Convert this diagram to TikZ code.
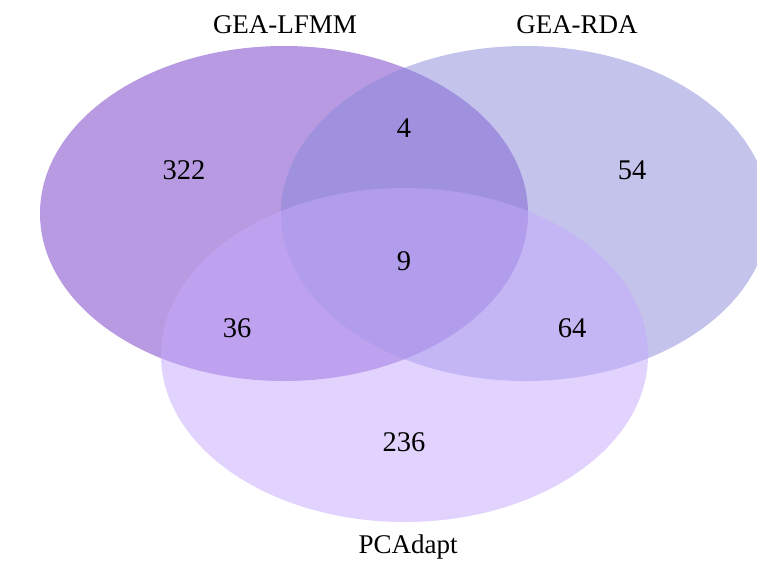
\documentclass[tikz,border=0pt]{standalone}
\usepackage{fontspec}
\setmainfont{Liberation Serif}
\definecolor{setL}{RGB}{113,55,197}
\definecolor{setR}{RGB}{137,137,219}
\definecolor{setB}{RGB}{197,169,253}
\begin{document}
\begin{tikzpicture}[x=1pt,y=-1pt,
  setfill/.style={fill=#1,fill opacity=0.5,draw=none},
  lbl/.style={anchor=base,inner sep=0pt,font=\fontsize{27}{30}\selectfont},
  cnt/.style={anchor=base,inner sep=0pt,font=\fontsize{28.5}{32}\selectfont}]
\useasboundingbox (0,0) rectangle (757,563);
\fill[white] (0,0) rectangle (757,563);
% the three sets
\fill[setfill=setL] (284,213.5) ellipse [x radius=244, y radius=167.5];
\fill[setfill=setR] (525,213.5) ellipse [x radius=244, y radius=167.5];
\fill[setfill=setB] (404.5,355) ellipse [x radius=243.5, y radius=167];
% set names
\node[lbl] (nameL) at (285,33) {GEA-LFMM};
\node[lbl] (nameR) at (577,33) {GEA-RDA};
\node[lbl] (nameB) at (408,553) {PCAdapt};
% region counts
\node[cnt] (onlyL) at (184,179.5) {322};
\node[cnt] (LR) at (404,137) {4};
\node[cnt] (onlyR) at (632,179.5) {54};
\node[cnt] (LRB) at (404,270) {9};
\node[cnt] (LB) at (237,337) {36};
\node[cnt] (RB) at (572,337) {64};
\node[cnt] (onlyB) at (404,451) {236};
\end{tikzpicture}
\end{document}
